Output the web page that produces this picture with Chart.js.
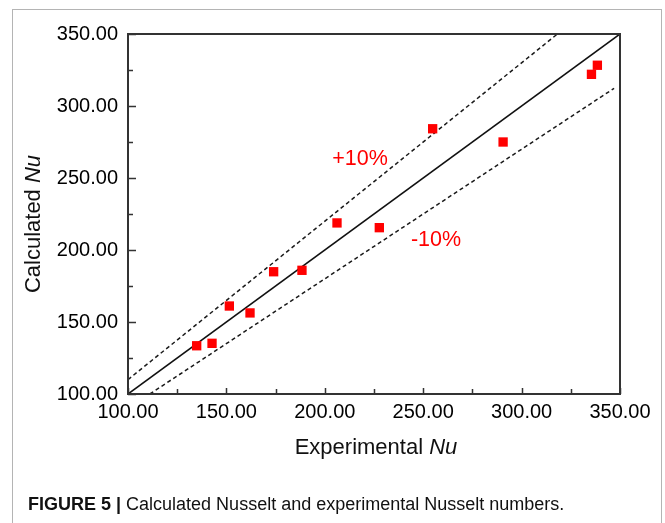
<!DOCTYPE html>
<html>
<head>
<meta charset="utf-8">
<script src="https://cdn.jsdelivr.net/npm/chart.js@4/dist/chart.umd.min.js"></script>
<style>
  html, body { margin: 0; padding: 0; background: #fff; }
  body { width: 665px; height: 523px; position: relative; overflow: hidden; }
  #frame {
    position: absolute; left: 12px; top: 9px; width: 648px; height: 600px;
    border: 1.5px solid #b4b4b4; border-bottom: none;
  }
  #wrap { position: absolute; left: 0; top: 0; width: 665px; height: 523px; }
  #caption {
    position: absolute; left: 28px; top: 494px; white-space: nowrap;
    font-family: "Liberation Sans", Arial, sans-serif; font-size: 18px; color: #111;
  }
  #caption b { font-weight: bold; }
</style>
</head>
<body>
<div id="frame"></div>
<div id="wrap"><canvas id="c"></canvas></div>
<div id="caption"><b>FIGURE 5 |</b> Calculated Nusselt and experimental Nusselt numbers.</div>
<script>
// Experimental vs. calculated Nusselt numbers
const expNu  = [134.9, 142.7, 151.5, 162.0, 174.0, 188.4, 206.2, 227.7, 254.8, 290.6, 335.5, 338.5];
const calcNu = [133.5, 135.2, 161.1, 156.3, 184.9, 185.9, 218.8, 215.5, 284.2, 275.0, 322.0, 328.3];

// Parity line and the ±10 % band limits (end points)
const parityX = [100, 350];
const parityY = [100, 350];
const plusX   = [100, 318.2];
const plusY   = [110, 350];
const minusX  = [111.1, 347.0];
const minusY  = [100, 312.3];

// Band labels and their anchor values
const bandLabels = ['+10%', '-10%'];
const bandLabelX = [217.9, 256.5];
const bandLabelY = [263.2, 207.0];

// Axis range and tick step
const axisMin = 100, axisMax = 350, tickStep = 25, labelStep = 50;

const FONT = '"Liberation Sans", Arial, sans-serif';
const toPoints = (xs, ys) => xs.map((x, i) => ({ x, y: ys[i] }));

const decorations = {
  id: 'decorations',
  afterDatasetsDraw(chart) {
    const { ctx, chartArea: a, scales: { x, y } } = chart;
    ctx.save();
    // tick marks pointing into the plot
    ctx.strokeStyle = '#333';
    ctx.lineWidth = 1.5;
    ctx.beginPath();
    x.ticks.forEach(t => {
      const px = Math.round(x.getPixelForValue(t.value)) + 0.5;
      const len = t.value % labelStep === 0 ? 6 : 5;
      ctx.moveTo(px, a.bottom); ctx.lineTo(px, a.bottom - len);
    });
    y.ticks.forEach(t => {
      const py = Math.round(y.getPixelForValue(t.value)) + 0.5;
      const len = t.value % labelStep === 0 ? 8 : 5;
      ctx.moveTo(a.left, py); ctx.lineTo(a.left + len, py);
    });
    ctx.stroke();
    // plot frame
    ctx.lineWidth = 2;
    ctx.strokeRect(a.left, a.top, a.right - a.left, a.bottom - a.top);

    // band labels
    ctx.fillStyle = '#ff0000';
    ctx.font = '21.5px ' + FONT;
    ctx.textAlign = 'center';
    ctx.textBaseline = 'middle';
    bandLabels.forEach((s, i) => {
      ctx.fillText(s, x.getPixelForValue(bandLabelX[i]), y.getPixelForValue(bandLabelY[i]));
    });

    // axis titles with italic symbol
    const drawTitle = (plain, ital, cx, cy, rot) => {
      ctx.save();
      ctx.translate(cx, cy);
      ctx.rotate(rot);
      ctx.fillStyle = '#111';
      ctx.textAlign = 'left';
      ctx.textBaseline = 'middle';
      ctx.font = '22px ' + FONT;
      const w1 = ctx.measureText(plain).width;
      ctx.font = 'italic 22px ' + FONT;
      const w2 = ctx.measureText(ital).width;
      const start = -(w1 + w2) / 2;
      ctx.font = '22px ' + FONT;
      ctx.fillText(plain, start, 0);
      ctx.font = 'italic 22px ' + FONT;
      ctx.fillText(ital, start + w1, 0);
      ctx.restore();
    };
    drawTitle('Experimental ', 'Nu', (a.left + a.right) / 2 + 2, 448, 0);
    drawTitle('Calculated ', 'Nu', 34, 224, -Math.PI / 2);
    ctx.restore();
  }
};

const tickOpts = {
  stepSize: tickStep,
  autoSkip: false,
  color: '#000',
  font: { family: FONT, size: 20 },
  callback: v => (v % labelStep === 0 ? v.toFixed(2) : '')
};

new Chart(document.getElementById('c'), {
  type: 'scatter',
  data: {
    datasets: [
      {
        label: 'Nu',
        data: toPoints(expNu, calcNu),
        pointStyle: 'rect',
        pointRadius: 6.6,
        pointHoverRadius: 6.6,
        backgroundColor: '#ff0000',
        borderColor: '#ff0000',
        borderWidth: 0,
        order: 0
      },
      {
        label: 'parity',
        data: toPoints(parityX, parityY),
        showLine: true, pointRadius: 0,
        borderColor: '#111', borderWidth: 1.6,
        order: 1
      },
      {
        label: '+10%',
        data: toPoints(plusX, plusY),
        showLine: true, pointRadius: 0,
        borderColor: '#1a1a1a', borderWidth: 1.5, borderDash: [4, 3],
        order: 1
      },
      {
        label: '-10%',
        data: toPoints(minusX, minusY),
        showLine: true, pointRadius: 0,
        borderColor: '#1a1a1a', borderWidth: 1.5, borderDash: [4, 3],
        order: 1
      }
    ]
  },
  options: {
    responsive: true,
    maintainAspectRatio: false,
    devicePixelRatio: 1,
    animation: false,
    layout: { padding: { top: 34, right: 45, left: 0, bottom: 0 } },
    plugins: { legend: { display: false }, tooltip: { enabled: false } },
    scales: {
      x: {
        type: 'linear', min: axisMin, max: axisMax,
        grid: { display: false, drawTicks: false },
        border: { display: false },
        ticks: Object.assign({}, tickOpts, { padding: 6, maxRotation: 0 }),
        afterFit: s => { s.height = 129; }
      },
      y: {
        type: 'linear', min: axisMin, max: axisMax,
        grid: { display: false, drawTicks: false },
        border: { display: false },
        ticks: Object.assign({}, tickOpts, { padding: 10 }),
        afterFit: s => { s.width = 128; }
      }
    }
  },
  plugins: [decorations]
});
</script>
</body>
</html>
